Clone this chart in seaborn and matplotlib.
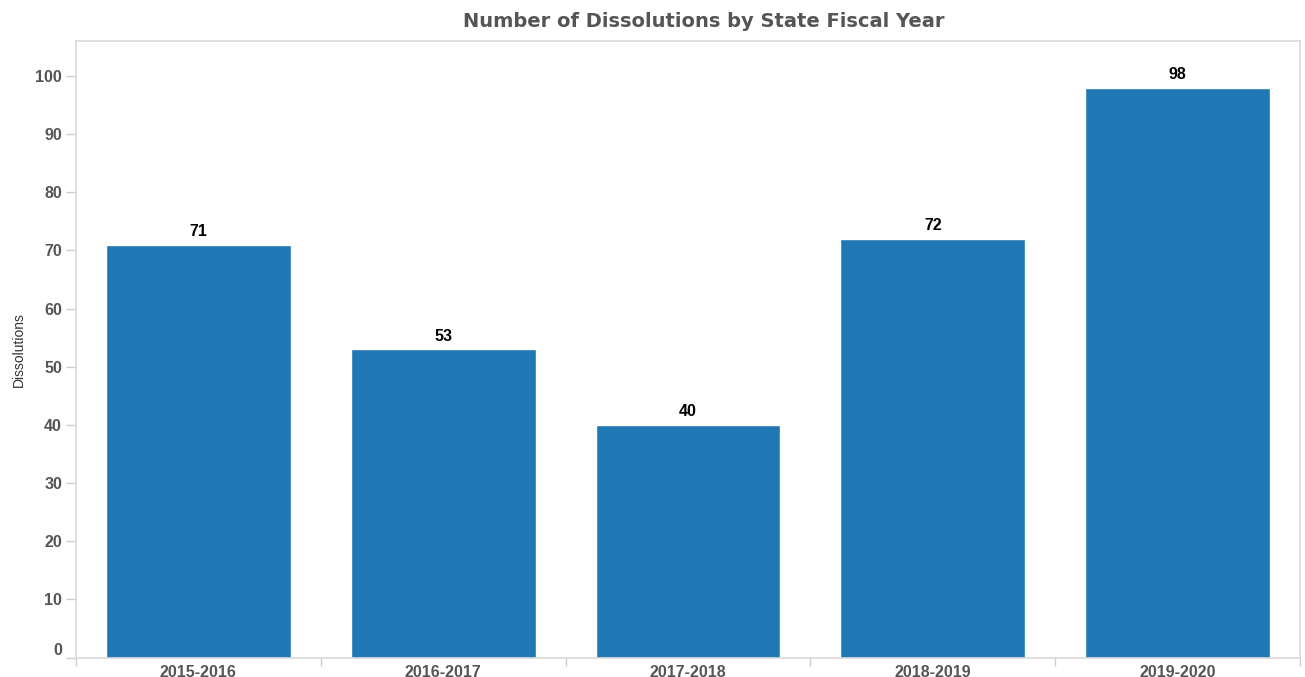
import matplotlib
matplotlib.use('Agg')
import matplotlib.pyplot as plt
import seaborn as sns
import pandas as pd
import numpy as np

# dane
years = ['2015-2016', '2016-2017', '2017-2018', '2018-2019', '2019-2020']
dissolutions = [71, 53, 40, 72, 98]
y_ticks = [0, 10, 20, 30, 40, 50, 60, 70, 80, 90, 100]

df = pd.DataFrame({'year': years, 'dissolutions': dissolutions})

sns.set_style('white')
plt.rcParams['font.family'] = ['Liberation Sans', 'DejaVu Sans']

fig = plt.figure(figsize=(13.05, 6.77), dpi=100)
ax = fig.add_axes([0.0582, 0.0287, 0.9380, 0.9107])

sns.barplot(data=df, x='year', y='dissolutions', color='#1f77b4', saturation=1,
            width=0.755, ax=ax)

ax.bar_label(ax.containers[0], padding=4, fontsize=11.5, fontweight='bold', color='black')

ax.set_xlim(-0.5, len(years) - 0.5)
ax.set_ylim(0, 106)
ax.set_yticks(y_ticks)
ax.set_yticklabels([str(t) for t in y_ticks], fontsize=11.5, fontweight='bold', color='#555555')
# etykieta "0" lekko podniesiona jak w oryginale
ax.get_yticklabels()[0].set_va('bottom')
ax.set_xticks(range(len(years)))
ax.set_xticklabels(years, fontsize=11.5, fontweight='bold', color='#555555')
ax.set_xticks(np.arange(-0.5, len(years), 1), minor=True)

ax.tick_params(axis='x', which='major', bottom=False, length=0, pad=5)
ax.tick_params(axis='x', which='minor', bottom=True, length=6, color='#cccccc', width=1)
ax.tick_params(axis='y', left=True, length=7, color='#cccccc', width=1, pad=3)

for s in ax.spines.values():
    s.set_color('#d9d9d9')
    s.set_linewidth(1.2)

ax.set_xlabel('')
ax.set_ylabel('Dissolutions', fontsize=10, color='#333333', labelpad=7)

fig.text(0.539, 0.968, 'Number of Dissolutions by State Fiscal Year', ha='center', va='center',
         fontsize=14, fontweight='bold', color='#555555', family='DejaVu Sans')

fig.savefig('out.png', dpi=100)
